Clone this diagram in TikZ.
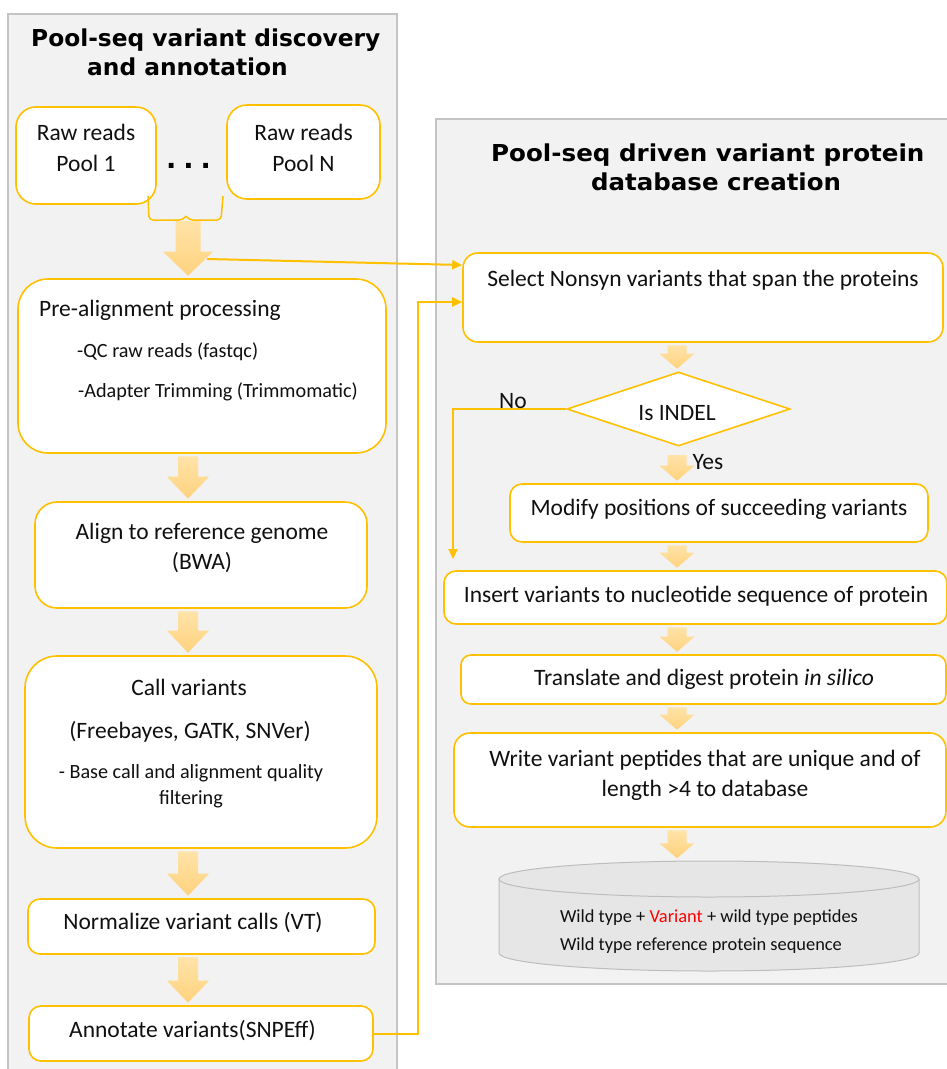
\documentclass[tikz,border=0pt]{standalone}
\usepackage{fontspec}
\setmainfont{Carlito}
\newfontfamily\titlefont{DejaVu Sans}
\usetikzlibrary{arrows.meta,shapes.geometric,calc}
\definecolor{gold}{HTML}{FFC000}
\definecolor{panelfill}{HTML}{F2F2F2}
\definecolor{panelline}{HTML}{C4C4C4}
\definecolor{arrtop}{HTML}{FFE3A8}
\definecolor{arrbot}{HTML}{FFD27E}
\definecolor{cylfill}{HTML}{E6E6E6}
\definecolor{cylline}{HTML}{BDBDBD}
\definecolor{txtcol}{HTML}{101010}
\definecolor{varred}{HTML}{FF0000}
\newcommand\blockarrow[6]{%
  \shade[top color=arrtop, bottom color=arrbot]
    let \p1=(#2), \p2=(#3) in
    ({(#1-#4)*1pt},{\y1-2.5pt}) -- ({(#1+#4)*1pt},{\y1-2.5pt}) --
    ({(#1+#4)*1pt},{\y2+2.5pt+#6*1pt}) -- ({(#1+#5)*1pt},{\y2+2.5pt+#6*1pt}) --
    ({#1*1pt},{\y2+2.5pt}) --
    ({(#1-#5)*1pt},{\y2+2.5pt+#6*1pt}) -- ({(#1-#4)*1pt},{\y2+2.5pt+#6*1pt}) -- cycle;}
\tikzset{
  panel/.style={fill=panelfill, draw=panelline, line width=1.5pt},
  box/.style={draw=gold, line width=1.6pt, fill=white, inner sep=0pt},
  txt/.style={font=\fontsize{23.5}{30.5}\selectfont, inner sep=0pt, align=center, text=txtcol},
  smalltxt/.style={font=\fontsize{20.2}{25.5}\selectfont, inner sep=0pt, align=center, text=txtcol},
  ttl/.style={font=\titlefont\bfseries\fontsize{23.3}{29}\selectfont, inner sep=0pt, text=black},
  conn/.style={draw=gold, line width=2pt, -{Triangle[length=10pt,width=9pt]}},
}
\begin{document}
\begin{tikzpicture}[x=1pt,y=-1pt]
\useasboundingbox (0,0) rectangle (947,1069);
\clip (0,0) rectangle (947,1069);
% panels
\draw[panel] (8,14) rectangle (397,1090);
\draw[panel] (436,119) rectangle (970,984);
% titles
\node[ttl, align=left, anchor=west] (titleL) at (31,52.5) {Pool-seq variant discovery\\\hspace*{56pt}and annotation};
\node[ttl, align=left, anchor=west] (titleR) at (491,167.5) {\scalebox{1.055}[1]{Pool-seq driven variant protein}\\\hspace*{100pt}\scalebox{1.05}[1]{database creation}};
% left column
\node[box, rounded corners=20pt, minimum width=140pt, minimum height=97pt] (raw1) at (86,155.5) {};
\node[txt] (raw1t) at (86,148) {Raw reads\\Pool 1};
\node[box, rounded corners=20pt, minimum width=153pt, minimum height=94pt] (rawN) at (303.5,152) {};
\node[txt] (rawNt) at (303.5,148) {Raw reads\\Pool N};
\node[ttl, font=\titlefont\bfseries\fontsize{27}{29}\selectfont] (dots) at (188.5,166) {.\hspace{7pt}.\hspace{7pt}.};
\draw[gold, line width=1.5pt, rounded corners=4pt] (148,196) -- (149,220) -- (183,220) -- (186,216);
\draw[gold, line width=1.5pt, rounded corners=4pt] (186,216) -- (189,220) -- (221,220) -- (223,196);
\coordinate (brace) at (186,218.5);
\node[box, rounded corners=30pt, minimum width=368pt, minimum height=174pt] (pre) at (202,366) {};
\node[txt, anchor=west] (pret1) at (39,310) {Pre-alignment processing};
\node[smalltxt, anchor=west] (pret2) at (77,352) {-QC raw reads (fastqc)};
\node[smalltxt, anchor=west] (pret3) at (78,392) {-Adapter Trimming (Trimmomatic)};
\node[box, rounded corners=22pt, minimum width=332pt, minimum height=106pt] (aln) at (201,555) {};
\node[txt] (alnt) at (202,548) {Align to reference genome\\(BWA)};
\node[box, rounded corners=32pt, minimum width=352pt, minimum height=192pt] (call) at (201,752) {};
\node[txt] (callt1) at (189,687) {Call variants};
\node[txt] (callt2) at (190,732) {(Freebayes, GATK, SNVer)};
\node[smalltxt] (callt3) at (191,786) {- Base call and alignment quality\\filtering};
\node[box, rounded corners=12pt, minimum width=347pt, minimum height=55pt] (norm) at (201.5,926.5) {};
\node[txt] (normt) at (193,923) {Normalize variant calls (VT)};
\node[box, rounded corners=12pt, minimum width=344pt, minimum height=55pt] (ann) at (201,1033.5) {};
\node[txt] (annt) at (192.5,1031) {Annotate variants(SNPEff)};
% right column
\node[box, rounded corners=15pt, minimum width=480pt, minimum height=89pt] (sel) at (703,297.5) {};
\node[txt] (selt) at (703,280) {Select Nonsyn variants that span the proteins};
\node[diamond, aspect=3, draw=gold, line width=1.6pt, fill=white, inner sep=0pt, minimum width=223pt, minimum height=74pt] (dia) at (678.5,409) {};
\node[txt] (diat) at (677,413) {Is INDEL};
\node[box, rounded corners=12pt, minimum width=418pt, minimum height=58pt] (mod) at (719,513) {};
\node[txt] (modt) at (719,509) {Modify positions of succeeding variants};
\node[box, rounded corners=12pt, minimum width=503pt, minimum height=53pt] (ins) at (695.5,597.5) {};
\node[txt] (inst) at (696,596) {Insert variants to nucleotide sequence of protein};
\node[box, rounded corners=10pt, minimum width=485pt, minimum height=49pt] (tra) at (703.5,679.5) {};
\node[txt] (trat) at (704,679) {Translate and digest protein \textit{in silico}};
\node[box, rounded corners=16pt, minimum width=492pt, minimum height=94pt] (wri) at (700,780) {};
\node[txt] (writ) at (705,775.5) {Write variant peptides that are unique and of\\length >4 to database};
% database cylinder
\node[minimum width=420pt, minimum height=110pt, inner sep=0pt] (cyl) at (709,916) {};
\fill[cylfill] (499,879) -- (499,953) arc[start angle=180, end angle=360, x radius=210pt, y radius=18pt] -- (919,879) arc[start angle=0, end angle=180, x radius=210pt, y radius=18pt] -- cycle;
\draw[cylline, line width=1pt] (499,879) -- (499,953) arc[start angle=180, end angle=360, x radius=210pt, y radius=18pt] -- (919,879);
\draw[cylline, line width=1pt] (709,879) ellipse [x radius=210pt, y radius=18pt];
\node[smalltxt, font=\fontsize{18.4}{28}\selectfont, align=left] (cylt) at (709,932) {Wild type + \textcolor{varred}{Variant} + wild type peptides\\Wild type reference protein sequence};
% block arrows
\blockarrow{188}{brace}{pre.north}{12.5}{25}{24}
\blockarrow{188}{pre.south}{aln.north}{10}{21}{22}
\blockarrow{188}{aln.south}{call.north}{10}{21}{22}
\blockarrow{188}{call.south}{norm.north}{10}{21}{22}
\blockarrow{188}{norm.south}{ann.north}{10}{21}{22}
\coordinate (yesstart) at (677,452.5);
\blockarrow{677}{sel.south}{dia.north}{9.5}{17.5}{15}
\blockarrow{677}{yesstart}{mod.north}{9.5}{17.5}{15}
\blockarrow{677}{mod.south}{ins.north}{9.5}{17.5}{15}
\blockarrow{677}{ins.south}{tra.north}{9.5}{17.5}{15}
\blockarrow{677}{tra.south}{wri.north}{9.5}{17.5}{15}
\blockarrow{677}{wri.south}{cyl.north}{9.5}{17.5}{15}
% connectors
\coordinate (a1r) at (207,259);
\draw[conn] (a1r) -- ([yshift=32.5pt]sel.west);
\draw[conn] (ann.east) -- ++(44,0) |- ([yshift=-4.5pt]sel.west);
\coordinate (noend) at (453,559);
\draw[conn] (dia.west) -| (noend);
\node[txt] (nolbl) at (513,401) {No};
\node[txt] (yeslbl) at (708,462) {Yes};
\end{tikzpicture}
\end{document}
